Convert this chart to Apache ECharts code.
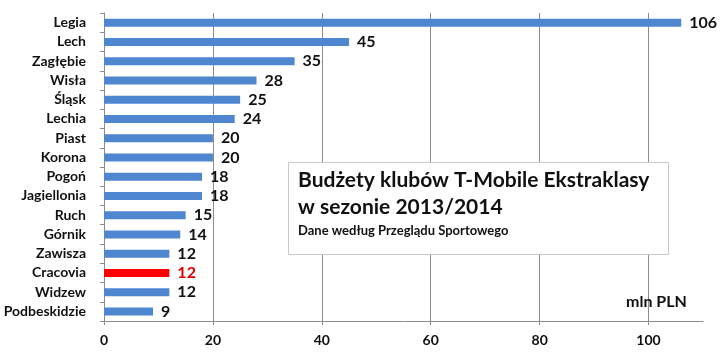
<!DOCTYPE html>
<html><head><meta charset="utf-8">
<script src="https://cdn.jsdelivr.net/npm/echarts@6/dist/echarts.min.js"></script>
<style>html,body{margin:0;padding:0;background:#fff}#c{width:720px;height:353px}</style>
</head><body><div id="c"></div>
<script>
const clubs = ['Legia','Lech','Zagłębie','Wisła','Śląsk','Lechia','Piast','Korona','Pogoń','Jagiellonia','Ruch','Górnik','Zawisza','Cracovia','Widzew','Podbeskidzie'];
const budgets = [106,45,35,28,25,24,20,20,18,18,15,14,12,12,12,9];
const highlight = 'Cracovia';
const xTicks = [0,20,40,60,80,100];
const titleLine1 = 'Budżety klubów T-Mobile Ekstraklasy';
const titleLine2 = 'w sezonie 2013/2014';
const subtitle = 'Dane według Przeglądu Sportowego';
const unitLabel = 'mln PLN';

const FONT = 'Lato, "Open Sans", sans-serif';
const chart = echarts.init(document.getElementById('c'));
chart.setOption({
  animation: false,
  grid: {left: 104, right: 17, top: 13, bottom: 32},
  xAxis: {
    type: 'value', min: 0, max: 110, interval: 20,
    axisLine: {show: true, lineStyle: {color: '#8c8c8c'}},
    axisTick: {show: true, length: 4, lineStyle: {color: '#8c8c8c'}},
    axisLabel: {show: true, margin: 12, color: '#111', fontWeight: 'bold', fontSize: 14, fontFamily: FONT,
      showMaxLabel: false, formatter: v => xTicks.includes(v) ? String(v) : ''},
    splitLine: {show: true, showMaxLine: false, lineStyle: {color: '#8c8c8c', width: 1}}
  },
  yAxis: {
    type: 'category', data: clubs, inverse: true,
    axisLine: {show: true, lineStyle: {color: '#8c8c8c'}},
    axisTick: {show: true, length: 4, alignWithLabel: false, lineStyle: {color: '#8c8c8c'}},
    axisLabel: {margin: 18, color: '#111', fontWeight: 'bold', fontSize: 14, fontFamily: FONT}
  },
  series: [{
    type: 'bar', barWidth: 8,
    data: budgets.map((v, i) => ({
      value: v,
      itemStyle: {color: clubs[i] === highlight ? '#ff0000' : '#4f86d0'},
      label: {color: clubs[i] === highlight ? '#e00000' : '#111'}
    })),
    label: {show: true, position: 'right', distance: 8, fontWeight: 'bold', fontSize: 16, fontFamily: FONT}
  }],
  graphic: [
    {type: 'rect', left: 288, top: 162, shape: {width: 380, height: 92},
     style: {fill: '#fff', stroke: '#c8c8c8', lineWidth: 1}, z: 10},
    {type: 'text', left: 298, top: 170, style: {text: titleLine1, font: 'bold 21px ' + FONT, fill: '#111'}, z: 11},
    {type: 'text', left: 298, top: 197, style: {text: titleLine2, font: 'bold 21px ' + FONT, fill: '#111'}, z: 11},
    {type: 'text', left: 298, top: 224, style: {text: subtitle, font: 'bold 13px ' + FONT, fill: '#111'}, z: 11},
    {type: 'text', left: 626, top: 294, style: {text: unitLabel, font: 'bold 16px ' + FONT, fill: '#111'}, z: 11}
  ]
});
</script></body></html>
